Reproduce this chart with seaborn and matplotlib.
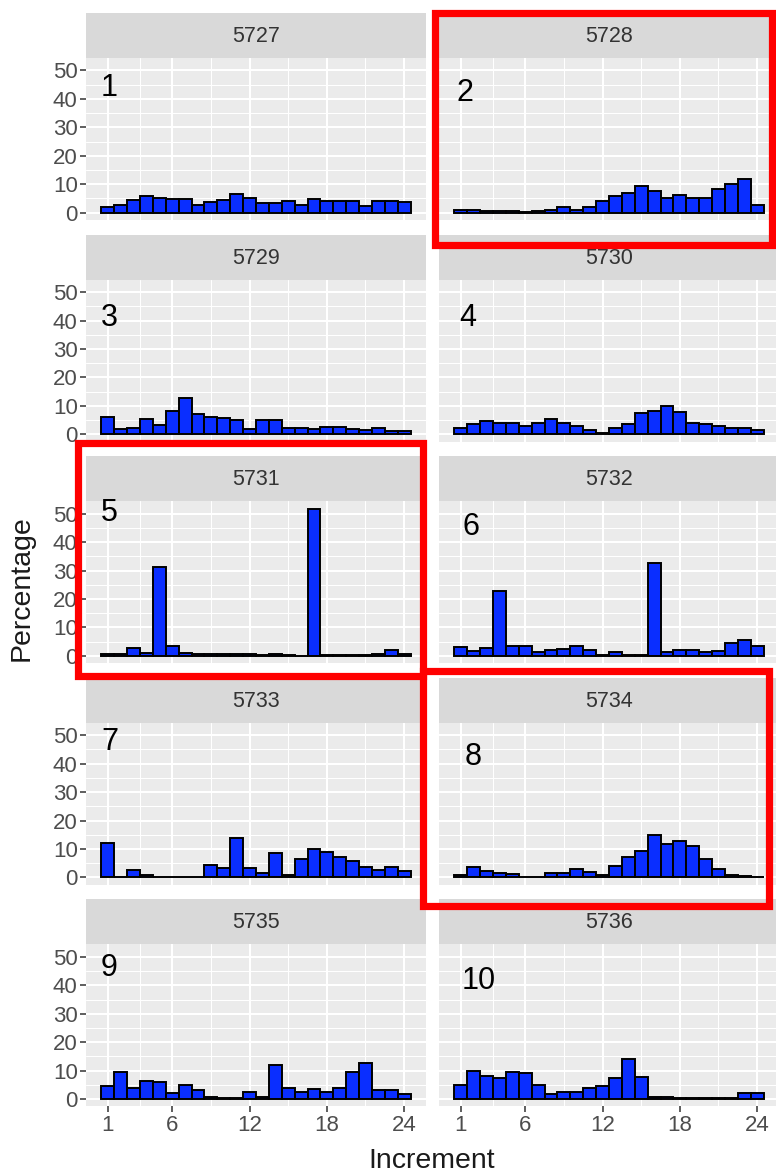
import numpy as np
import pandas as pd
import matplotlib
matplotlib.use("Agg")
import matplotlib.pyplot as plt
from matplotlib.patches import Rectangle
from matplotlib.ticker import FixedLocator
import seaborn as sns

# ---- data -------------------------------------------------------------
plot_ids = ["5727", "5728", "5729", "5730", "5731",
            "5732", "5733", "5734", "5735", "5736"]
increments = list(range(1, 25))

pct_5727 = [2.0, 2.7, 4.4, 5.8, 5.3, 4.7, 4.8, 2.7, 3.6, 4.4, 6.5, 5.0,
            3.4, 3.4, 4.2, 2.8, 4.7, 4.1, 4.1, 4.1, 2.2, 4.0, 4.1, 3.9]
pct_5728 = [1.0, 1.0, 0.5, 0.5, 0.4, 0.3, 0.4, 1.0, 2.0, 1.0, 2.0, 4.2,
            5.8, 7.0, 9.3, 7.7, 5.3, 6.2, 5.2, 5.3, 8.3, 9.9, 12.0, 2.7]
pct_5729 = [6.1, 1.7, 2.3, 5.5, 3.3, 8.2, 12.8, 7.0, 6.0, 5.7, 4.9, 1.7,
            4.9, 5.1, 2.1, 2.1, 1.8, 2.6, 2.6, 1.7, 1.6, 2.1, 1.2, 1.2]
pct_5730 = [2.3, 3.7, 4.8, 3.9, 3.9, 2.9, 3.9, 5.4, 3.9, 3.0, 1.5, 0.3,
            2.1, 3.7, 7.6, 8.2, 9.8, 7.8, 3.9, 3.7, 3.0, 2.1, 2.1, 1.5]
pct_5731 = [0.8, 0.8, 2.7, 0.9, 31.4, 3.3, 0.9, 0.8, 0.7, 0.5, 0.6, 0.5,
            0.4, 0.8, 0.2, 0.1, 51.8, 0.2, 0.2, 0.3, 0.3, 0.5, 2.0, 0.5]
pct_5732 = [3.1, 1.8, 2.6, 22.9, 3.6, 3.3, 1.3, 1.9, 2.5, 3.3, 2.1, 0.4,
            1.5, 0.4, 0.2, 32.7, 1.3, 2.1, 2.1, 1.3, 1.8, 4.5, 5.4, 3.6]
pct_5733 = [12.0, 0.2, 2.6, 0.8, 0.2, 0.1, 0.1, 0.1, 4.4, 3.2, 13.8, 3.4,
            1.4, 8.5, 0.8, 6.5, 9.9, 9.1, 7.1, 5.8, 3.8, 2.6, 3.5, 2.4]
pct_5734 = [0.8, 3.5, 2.4, 1.4, 1.2, 0.2, 0.2, 1.4, 1.4, 2.9, 2.0, 0.8,
            4.1, 7.1, 9.4, 14.9, 11.6, 12.9, 11.1, 6.4, 2.8, 0.8, 0.6, 0.2]
pct_5735 = [4.7, 9.4, 3.9, 6.5, 5.9, 2.1, 4.9, 3.2, 0.8, 0.2, 0.2, 2.4,
            0.6, 12.0, 3.9, 2.4, 3.5, 2.6, 3.9, 9.6, 12.7, 3.3, 3.3, 1.8]
pct_5736 = [5.1, 9.8, 8.2, 7.3, 9.4, 9.2, 4.9, 1.8, 2.4, 2.4, 3.8, 4.7,
            7.3, 14.1, 7.9, 0.8, 0.6, 0.3, 0.4, 0.3, 0.3, 0.4, 2.1, 2.1]

series = [pct_5727, pct_5728, pct_5729, pct_5730, pct_5731,
          pct_5732, pct_5733, pct_5734, pct_5735, pct_5736]
panel_numbers = ["1", "2", "3", "4", "5", "6", "7", "8", "9", "10"]
highlighted = ["5728", "5731", "5734"]

x_breaks = [1, 6, 12, 18, 24]
y_breaks = [0, 10, 20, 30, 40, 50]

df = pd.concat(
    [pd.DataFrame({"Plot": pid, "Increment": increments, "Percentage": vals})
     for pid, vals in zip(plot_ids, series)],
    ignore_index=True,
)

# ---- style ------------------------------------------------------------
sns.set_theme(style="darkgrid")
plt.rcParams["font.family"] = ["Liberation Sans", "DejaVu Sans"]

W, H = 776, 1176
fig = plt.figure(figsize=(W / 100, H / 100), dpi=100)
fig.patch.set_facecolor("white")


def fig_box(left, top, width, height):
    return [left / W, 1 - (top + height) / H, width / W, height / H]


panel_w, panel_h = 340, 162
strip_h = 45
col_left = [86, 439]
row_top = [13 + r * 221.6 for r in range(5)]

ymax = df["Percentage"].max()
ypad = 0.05 * ymax
ylim = (-ypad, ymax + ypad)
xlim = (0.5 - 1.2, 24.5 + 1.2)

overlay = fig.add_axes([0, 0, 1, 1], zorder=10)
overlay.set_xlim(0, W)
overlay.set_ylim(H, 0)
overlay.axis("off")
overlay.patch.set_alpha(0)

for i, pid in enumerate(plot_ids):
    r, c = divmod(i, 2)
    left = col_left[c]
    top = row_top[r]
    ax = fig.add_axes(fig_box(left, top + strip_h, panel_w, panel_h))
    sub = df[df["Plot"] == pid]
    sns.histplot(data=sub, x="Increment", weights="Percentage", discrete=True,
                 ax=ax, color="#0A2EFF", edgecolor="black", linewidth=1.4,
                 alpha=1.0)
    ax.set_facecolor("#EBEBEB")
    ax.set_xlim(*xlim)
    ax.set_ylim(*ylim)
    ax.set_xticks(x_breaks)
    ax.set_yticks(y_breaks)
    ax.xaxis.set_minor_locator(FixedLocator([3.5, 9, 15, 21]))
    ax.yaxis.set_minor_locator(FixedLocator([5, 15, 25, 35, 45]))
    ax.grid(which="major", color="white", linewidth=1.5)
    ax.grid(which="minor", color="white", linewidth=0.75)
    ax.set_axisbelow(True)
    for s in ax.spines.values():
        s.set_visible(False)
    ax.set_xlabel("")
    ax.set_ylabel("")
    ax.tick_params(which="minor", length=0)
    ax.tick_params(which="major", length=4, width=1.1, color="#333333",
                   labelsize=16, labelcolor="#4D4D4D", pad=2)
    if c == 0:
        ax.tick_params(axis="y", left=True, labelleft=True)
    else:
        ax.tick_params(axis="y", left=False, labelleft=False)
    if r == 4:
        ax.tick_params(axis="x", bottom=True, labelbottom=True)
    else:
        ax.tick_params(axis="x", bottom=False, labelbottom=False)

    # facet strip
    overlay.add_patch(Rectangle((left, top), panel_w, strip_h,
                                facecolor="#D9D9D9", edgecolor="none",
                                zorder=1))
    overlay.text(left + panel_w / 2, top + strip_h / 2 + 1, pid,
                 ha="center", va="center", fontsize=15.5, color="#333333",
                 zorder=2)

# panel numbering
number_pos = [(101, 88), (457, 93), (101, 318), (459, 318), (101, 513),
              (463, 527), (101, 742), (465, 757), (101, 968), (462, 981)]
for label, (px, py) in zip(panel_numbers, number_pos):
    overlay.text(px, py, label, ha="left", va="center", fontsize=22,
                 color="black", zorder=3)

# highlight frames
frames = {"5728": (435, 13, 337, 232),
          "5731": (78, 443, 345, 233),
          "5734": (423, 671, 346, 235)}
for pid in highlighted:
    fx, fy, fw, fh = frames[pid]
    overlay.add_patch(Rectangle((fx, fy), fw, fh, facecolor="none",
                                edgecolor="#FF0000", linewidth=5.2, zorder=4))

# axis titles
overlay.text(22, 588, "Percentage", rotation=90, ha="center", va="center",
             fontsize=20.5, color="#1A1A1A")
overlay.text(432, 1161, "Increment", ha="center", va="center",
             fontsize=20.5, color="#1A1A1A")

fig.savefig("out.png", dpi=100)
